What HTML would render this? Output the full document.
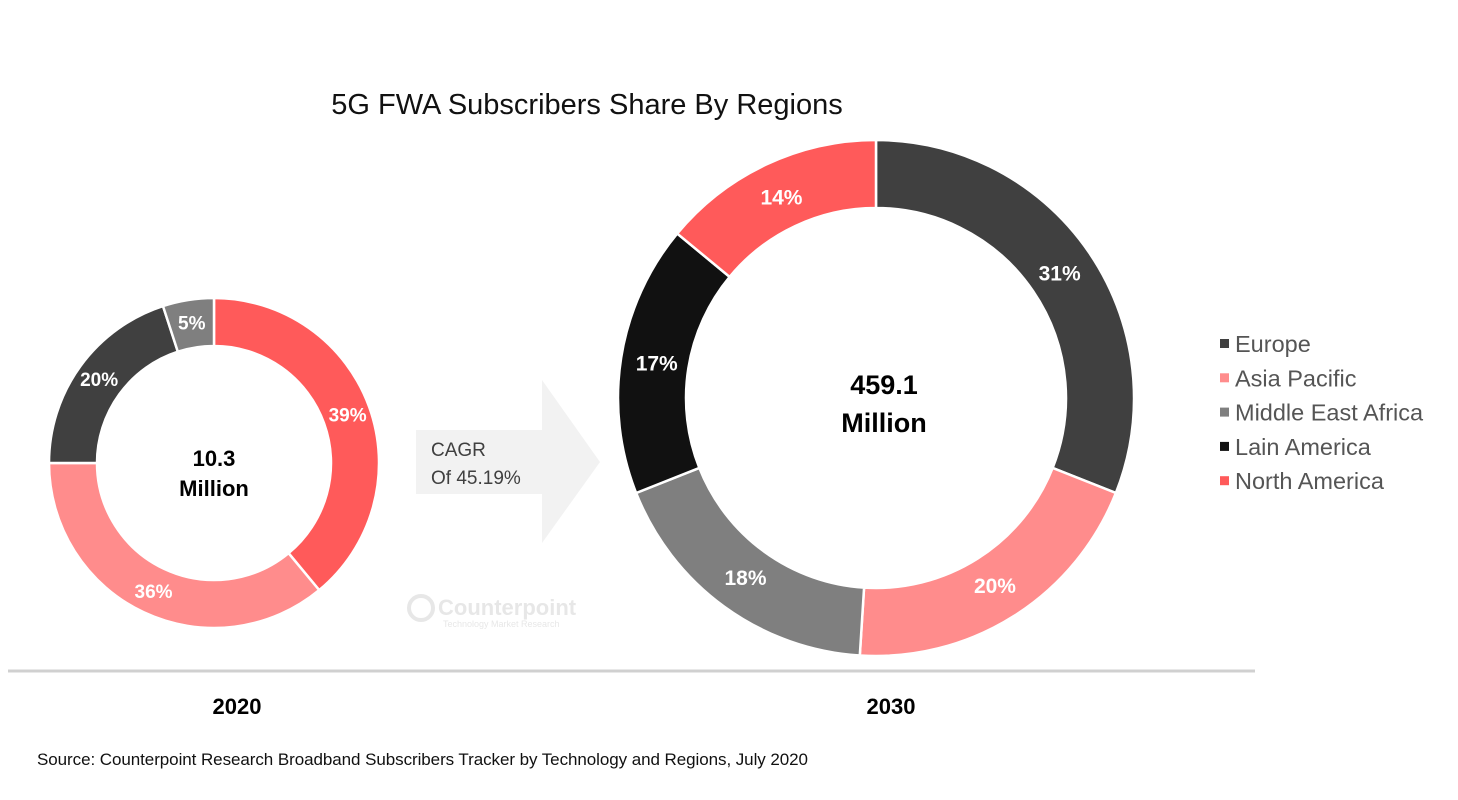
<!DOCTYPE html>
<html><head><meta charset="utf-8"><style>
html,body{margin:0;padding:0;background:#fff;width:1458px;height:800px;overflow:hidden}
svg{display:block;font-family:"Liberation Sans",Arial,sans-serif}
</style></head><body>
<svg id="chart" width="1458" height="800" viewBox="0 0 1458 800">
<text x="587" y="114" font-size="29" text-anchor="middle" fill="#111">5G FWA Subscribers Share By Regions</text>
<g>
<polygon points="416,430 542,430 542,380 600,462 542,543 542,494 416,494" fill="#f2f2f2"/>
<text x="431" y="456" font-size="19" fill="#404040">CAGR</text>
<text x="431" y="484" font-size="19" fill="#404040">Of 45.19%</text>
</g>
<g opacity="0.35">
<circle cx="421" cy="608" r="12" fill="none" stroke="#bbb" stroke-width="4"/>
<text x="438" y="615" font-size="22" font-weight="bold" fill="#bbb">Counterpoint</text>
<text x="443" y="627" font-size="9" fill="#bbb">Technology Market Research</text>
</g>
<line x1="8" y1="671" x2="1255" y2="671" stroke="#d0d0d0" stroke-width="3"/>
<text x="237" y="714" font-size="22" font-weight="bold" text-anchor="middle">2020</text>
<text x="891" y="714" font-size="22" font-weight="bold" text-anchor="middle">2030</text>
<text x="37" y="765" font-size="17" fill="#111" textLength="771">Source: Counterpoint Research Broadband Subscribers Tracker by Technology and Regions, July 2020</text>
<g id="d1"></g><g id="d2"></g><g id="legend"></g>
</svg>
<script>
const regions = ["Europe","Asia Pacific","Middle East Africa","Lain America","North America"];
const colors = ["#404040","#ff8c8c","#7f7f7f","#111111","#ff5a5a"];
const order2020 = [4,1,0,2];
const values2020 = [39,36,20,5];
const order2030 = [0,1,2,3,4];
const values2030 = [31,20,18,17,14];
const NS="http://www.w3.org/2000/svg";
function mk(t,a,p){const e=document.createElementNS(NS,t);for(const k in a)e.setAttribute(k,a[k]);p.appendChild(e);return e;}
function donut(g,cx,cy,ro,ri,order,vals,fs,lr,name){
  const tot=vals.reduce((a,b)=>a+b,0);let a0=0;
  vals.forEach((v,i)=>{
    const a1=a0+v/tot*2*Math.PI;
    const P=(r,a)=>[cx+r*Math.sin(a),cy-r*Math.cos(a)];
    const [x1,y1]=P(ro,a0),[x2,y2]=P(ro,a1),[x3,y3]=P(ri,a1),[x4,y4]=P(ri,a0);
    const lg=(a1-a0)>Math.PI?1:0;
    const p=mk('path',{d:`M${x1},${y1}A${ro},${ro} 0 ${lg} 1 ${x2},${y2}L${x3},${y3}A${ri},${ri} 0 ${lg} 0 ${x4},${y4}Z`,fill:colors[order[i]],stroke:'#fff','stroke-width':2.5},g);
    
    
    const am=(a0+a1)/2;const [lx,ly]=P(lr,am);
    const t=mk('text',{x:lx,y:ly+fs*0.35,'font-size':fs,'font-weight':'bold','text-anchor':'middle',fill:'#fff'},g);
    t.textContent=v+'%';
    
    
    a0=a1;
  });
}
donut(document.getElementById('d1'),214,463,165,117,order2020,values2020,19,142,'donut-2020');
donut(document.getElementById('d2'),876,398,258,190,order2030,values2030,21,222,'donut-2030');
const d1=document.getElementById('d1'),d2=document.getElementById('d2');
[[d1,214,466,'10.3',22],[d1,214,496,'Million',22],[d2,884,394,'459.1',27],[d2,884,432,'Million',27]].forEach(([g,x,y,s,f])=>{
  const t=mk('text',{x:x,y:y,'font-size':f,'font-weight':'bold','text-anchor':'middle',fill:'#000'},g);t.textContent=s;
  
  
});
const lg=document.getElementById('legend');
regions.forEach((r,i)=>{
  const y=344+i*34.3;
  const e=mk('g',{},lg);
  
  
  mk('rect',{x:1220,y:y-5,width:9,height:9,fill:colors[i]},e);
  const t=mk('text',{x:1235,y:y+8,'font-size':23.5,fill:'#555'},e);t.textContent=r;
});
</script>
</body></html>
